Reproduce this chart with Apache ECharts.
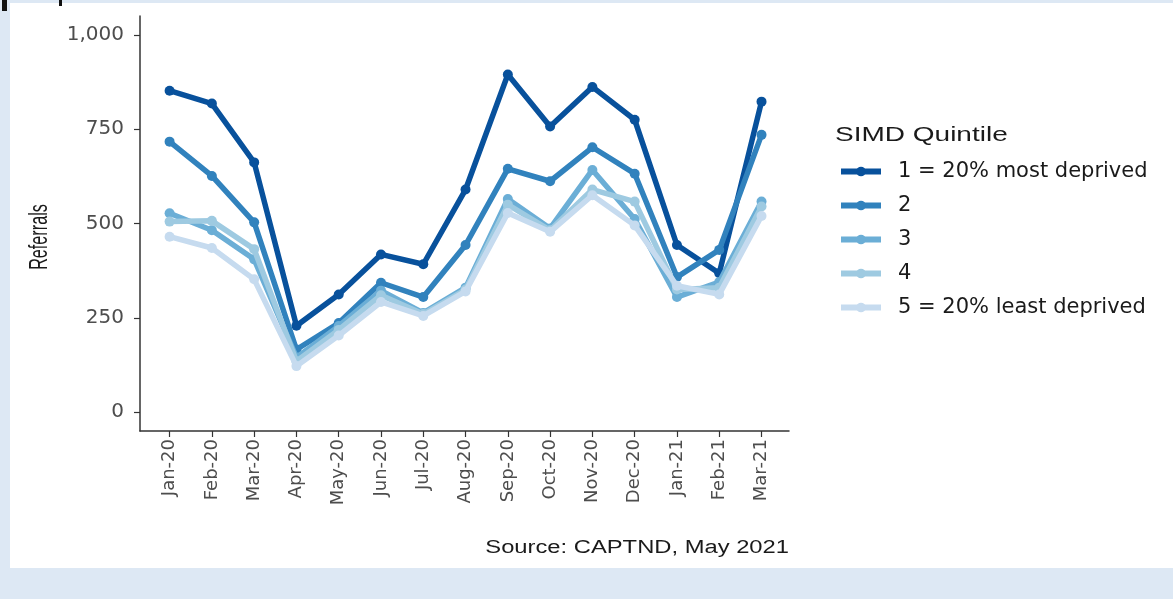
<!DOCTYPE html>
<html>
<head>
<meta charset="utf-8">
<script src="https://cdn.jsdelivr.net/npm/echarts@6/dist/echarts.min.js"></script>
<style>
  html, body { margin:0; padding:0; width:1173px; height:599px; background:#dde8f4; overflow:hidden; }
  #panel { position:absolute; left:10px; top:3px; width:1163px; height:565px; background:#ffffff; }
  #chart { position:absolute; left:0; top:0; width:1173px; height:599px; }
</style>
</head>
<body>
<div id="panel"></div>
<div id="chart"></div>
<script>
// ---- data ----
const categories = ['Jan-20','Feb-20','Mar-20','Apr-20','May-20','Jun-20','Jul-20','Aug-20','Sep-20','Oct-20','Nov-20','Dec-20','Jan-21','Feb-21','Mar-21'];
const seriesNames = ['1 = 20% most deprived', '2', '3', '4', '5 = 20% least deprived'];
const q1 = [852, 818, 662, 229, 312, 418, 392, 590, 895, 757, 862, 775, 443, 368, 823];
const q2 = [717, 626, 503, 166, 236, 343, 305, 443, 645, 612, 702, 632, 358, 430, 735];
const q3 = [527, 482, 405, 145, 228, 322, 263, 330, 565, 487, 642, 512, 305, 345, 558];
const q4 = [505, 507, 432, 135, 218, 310, 260, 325, 550, 482, 590, 558, 325, 330, 545];
const q5 = [465, 435, 352, 122, 203, 292, 255, 320, 528, 478, 575, 495, 335, 312, 520];
const yTicks = [0, 250, 500, 750, 1000];
const legendTitle = 'SIMD Quintile';
const yTitle = 'Referrals';
const sourceText = 'Source: CAPTND, May 2021';

const colors = ['#08519c', '#3182bd', '#6baed6', '#9ecae1', '#c6dbef'];
const allSeries = [q1, q2, q3, q4, q5];
const xIdx = categories.map((c, i) => i);

const chart = echarts.init(document.getElementById('chart'), null, { renderer: 'canvas' });
const axisColor = '#333333';
const labelColor = '#4d4d4d';

chart.setOption({
  animation: false,
  backgroundColor: 'transparent',
  grid: { left: 140, right: 384, top: 16, bottom: 168, containLabel: false },
  xAxis: {
    type: 'value',
    min: -0.7,
    max: 14.65,
    axisLine: { show: true, onZero: false, lineStyle: { color: axisColor, width: 1.5 } },
    axisTick: { show: true, customValues: xIdx, length: 6, lineStyle: { color: axisColor, width: 1.2 } },
    axisLabel: {
      show: true, customValues: xIdx, rotate: 90, margin: 8,
      formatter: v => categories[Math.round(v)] || '',
      color: labelColor, fontSize: 18, fontFamily: 'DejaVu Sans'
    },
    splitLine: { show: false }
  },
  yAxis: {
    type: 'value',
    min: -50,
    max: 1050,
    axisLine: { show: true, onZero: false, lineStyle: { color: axisColor, width: 1.5 } },
    axisTick: { show: true, customValues: yTicks, length: 6, lineStyle: { color: axisColor, width: 1.2 } },
    axisLabel: {
      show: true, customValues: yTicks, margin: 16,
      formatter: v => Number(v).toLocaleString('en-US'),
      color: labelColor, fontSize: 20, fontFamily: 'DejaVu Sans'
    },
    splitLine: { show: false }
  },
  legend: {
    orient: 'vertical',
    left: 838,
    top: 161,
    padding: 0,
    itemWidth: 40,
    itemHeight: 12,
    itemGap: 13,
    data: seriesNames,
    lineStyle: { width: 6 },
    textStyle: { fontFamily: 'DejaVu Sans', fontSize: 21, color: '#1a1a1a', lineHeight: 21, padding: [0, 0, 0, 12] }
  },
  graphic: [
    { type: 'rect', shape: { x: 2, y: 0, width: 5, height: 11 }, style: { fill: '#111' } },
    { type: 'rect', shape: { x: 59, y: 0, width: 3, height: 6 }, style: { fill: '#111' } },
    { type: 'text', x: 835, y: 135, scaleX: 1.4, scaleY: 1.05,
      style: { text: legendTitle, font: '20px "Liberation Sans"', fill: '#1a1a1a', align: 'left', verticalAlign: 'middle' } },
    { type: 'text', x: 40, y: 237, rotation: Math.PI / 2, scaleX: 0.9, scaleY: 1.45,
      style: { text: yTitle, font: '18px "Liberation Sans"', fill: '#1a1a1a', align: 'center', verticalAlign: 'middle' } },
    { type: 'text', x: 789, y: 548, scaleX: 1.32,
      style: { text: sourceText, font: '18px "Liberation Sans"', fill: '#1a1a1a', align: 'right', verticalAlign: 'middle' } }
  ],
  series: allSeries.map((arr, k) => ({
    name: seriesNames[k],
    type: 'line',
    data: arr.map((v, i) => [i, v]),
    symbol: 'circle',
    symbolSize: 10,
    showSymbol: true,
    color: colors[k],
    lineStyle: { width: 5.5, color: colors[k] },
    itemStyle: { color: colors[k] },
    z: 2 + k
  }))
});
</script>
</body>
</html>
